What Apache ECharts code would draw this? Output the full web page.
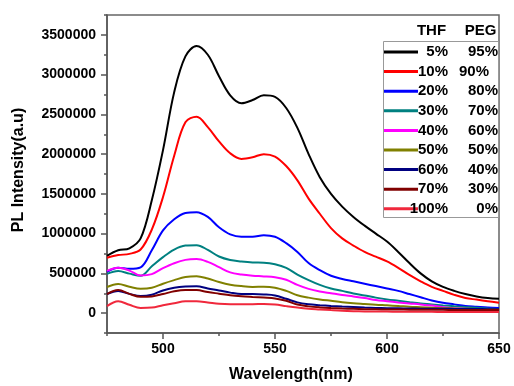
<!DOCTYPE html>
<html>
<head>
<meta charset="utf-8">
<script src="https://cdn.jsdelivr.net/npm/echarts@6/dist/echarts.min.js"></script>
<style>html,body{margin:0;padding:0;background:#fff}#c{width:514px;height:386px}</style>
</head>
<body>
<div id="c"></div>
<script>
var wavelengths = [475,480,485,490,495,500,505,510,515,520,525,530,535,540,545,550,555,560,565,570,575,580,585,590,595,600,605,610,615,620,625,630,635,640,645,650];
var s5  = [720000,790000,815000,940000,1420000,2050000,2780000,3230000,3360000,3250000,2980000,2740000,2640000,2680000,2740000,2720000,2580000,2330000,2000000,1710000,1500000,1340000,1210000,1100000,1000000,900000,770000,630000,500000,400000,330000,280000,240000,210000,190000,180000];
var s10 = [696000,730000,745000,800000,1050000,1460000,1980000,2400000,2470000,2340000,2160000,2010000,1940000,1960000,2000000,1970000,1850000,1670000,1440000,1250000,1070000,940000,850000,770000,710000,650000,570000,480000,400000,330000,280000,230000,190000,170000,150000,130000];
var s20 = [519000,570000,557000,575000,790000,1040000,1180000,1260000,1270000,1210000,1080000,990000,960000,960000,980000,960000,880000,770000,630000,540000,470000,430000,400000,370000,340000,310000,280000,240000,200000,160000,130000,110000,90000,80000,70000,63000];
var s30 = [494000,530000,497000,470000,590000,705000,800000,850000,855000,795000,712000,668000,650000,638000,635000,615000,570000,485000,415000,355000,310000,280000,248000,222000,195000,172000,155000,138000,122000,110000,97000,86000,76000,67000,58000,50000];
var s40 = [532000,570000,535000,472000,490000,565000,628000,670000,680000,645000,578000,512000,485000,470000,462000,450000,420000,355000,305000,272000,250000,228000,210000,190000,165000,150000,135000,122000,110000,95000,75000,62000,55000,48000,42000,38000];
var s50 = [329000,367000,332000,306000,318000,370000,415000,455000,465000,435000,392000,358000,340000,330000,332000,320000,280000,225000,195000,172000,155000,138000,125000,115000,105000,98000,90000,80000,74000,68000,62000,58000,55000,53000,51000,50000];
var s60 = [240000,278000,242000,216000,232000,285000,318000,334000,338000,310000,285000,258000,240000,240000,235000,222000,180000,135000,112000,100000,90000,82000,76000,70000,65000,62000,60000,58000,56000,55000,54000,53000,52000,51000,50000,50000];
var s70 = [240000,291000,242000,205000,210000,240000,275000,292000,290000,265000,245000,225000,212000,203000,195000,185000,155000,108000,85000,72000,64000,58000,54000,50000,48000,46000,45000,44000,43000,42000,41000,40000,39000,38000,38000,38000];
var s100 = [89000,150000,105000,65000,70000,100000,125000,148000,150000,135000,118000,112000,112000,113000,114000,108000,88000,70000,56000,47000,38000,30000,25000,22000,20000,19000,18000,17000,16000,16000,15000,15000,15000,15000,15000,15000];

var seriesNames = ['5%|95%','10%|90%','20%|80%','30%|70%','40%|60%','50%|50%','60%|40%','70%|30%','100%|0%'];
var seriesValues = [s5,s10,s20,s30,s40,s50,s60,s70,s100];
var seriesColors = ['#000000','#ff0000','#0000ff','#008080','#ff00ff','#808000','#000080','#800000','#f0283c'];

var yMajorTicks = [0,500000,1000000,1500000,2000000,2500000,3000000,3500000];
var yMinorTicks = [-250000,250000,750000,1250000,1750000,2250000,2750000,3250000,3750000];
var xMajorTicks = [500,550,600,650];
var xMinorTicks = [475,525,575,625];

var FONT = '"Liberation Sans", Arial, sans-serif';
var chart = echarts.init(document.getElementById('c'), null, {renderer:'canvas'});

var series = seriesValues.map(function(vals, i){
  return {
    name: seriesNames[i], type: 'line', xAxisIndex: 0, yAxisIndex: 0,
    showSymbol: false, symbol: 'none', smooth: 0.35, animation: false,
    lineStyle: {color: seriesColors[i], width: 2},
    itemStyle: {color: seriesColors[i]},
    data: wavelengths.map(function(w, j){ return [w, vals[j]]; })
  };
});

var axisLineStyle = {color:'#555', width:1.5};
chart.setOption({
  animation: false,
  backgroundColor: '#fff',
  grid: {left:107, right:15, top:15, bottom:53, show:true, borderColor:'#666', borderWidth:1.5, backgroundColor:'transparent'},
  xAxis: [
    {type:'value', min:475, max:650, position:'bottom',
     axisLine:{show:true, onZero:false, lineStyle:axisLineStyle},
     axisTick:{show:true, length:6, customValues:xMajorTicks, lineStyle:axisLineStyle},
     axisLabel:{show:true, customValues:xMajorTicks, margin:9, color:'#000', fontFamily:FONT, fontWeight:'bold', fontSize:14,
       formatter:function(v){return String(v);}},
     splitLine:{show:false}},
    {type:'value', min:475, max:650, position:'bottom', offset:0,
     axisLine:{show:false, onZero:false},
     axisTick:{show:true, length:3, customValues:xMinorTicks, lineStyle:axisLineStyle},
     axisLabel:{show:false}, splitLine:{show:false}}
  ],
  yAxis: [
    {type:'value', min:-250000, max:3750000, position:'left',
     axisLine:{show:true, onZero:false, lineStyle:axisLineStyle},
     axisTick:{show:true, length:6, customValues:yMajorTicks, lineStyle:axisLineStyle},
     axisLabel:{show:true, customValues:yMajorTicks, margin:11, color:'#000', fontFamily:FONT, fontWeight:'bold', fontSize:14,
       formatter:function(v){return String(v);}},
     splitLine:{show:false}},
    {type:'value', min:-250000, max:3750000, position:'left', offset:0,
     axisLine:{show:false, onZero:false},
     axisTick:{show:true, length:3, customValues:yMinorTicks, lineStyle:axisLineStyle},
     axisLabel:{show:false}, splitLine:{show:false}}
  ],
  legend: {
    orient:'vertical', left:384, top:44, padding:0, itemGap:3.6,
    itemWidth:34, itemHeight:3, icon:'rect',
    data: seriesNames,
    formatter: function(name){
      var p = name.split('|');
      var b = (p[0] === '10%') ? 'c' : 'b';
      return '{a|' + p[0] + '}{' + b + '|' + p[1] + '}';
    },
    textStyle: {
      color:'#000', fontFamily:FONT, fontWeight:'bold', fontSize:15, lineHeight:16,
      rich: {
        a:{width:25, align:'right', fontFamily:FONT, fontWeight:'bold', fontSize:15, lineHeight:16},
        b:{width:50, align:'right', fontFamily:FONT, fontWeight:'bold', fontSize:15, lineHeight:16},
        c:{width:41, align:'right', fontFamily:FONT, fontWeight:'bold', fontSize:15, lineHeight:16}
      }
    }
  },
  graphic: [
    {type:'rect', shape:{x:383.5, y:41.5, width:115, height:176}, style:{fill:'none', stroke:'#999', lineWidth:1}, z:1},
    {type:'text', x:431.5, y:30.5, style:{text:'THF', fill:'#000', font:'bold 15px "Liberation Sans", Arial, sans-serif', textAlign:'center', textVerticalAlign:'middle'}},
    {type:'text', x:480.5, y:30.5, style:{text:'PEG', fill:'#000', font:'bold 15px "Liberation Sans", Arial, sans-serif', textAlign:'center', textVerticalAlign:'middle'}},
    {type:'text', x:291, y:375, style:{text:'Wavelength(nm)', fill:'#000', font:'bold 16px "Liberation Sans", Arial, sans-serif', textAlign:'center', textVerticalAlign:'middle'}},
    {type:'text', x:19, y:170, rotation:Math.PI/2, style:{text:'PL Intensity(a.u)', fill:'#000', font:'bold 16px "Liberation Sans", Arial, sans-serif', textAlign:'center', textVerticalAlign:'middle'}}
  ],
  series: series
});
</script>
</body>
</html>
